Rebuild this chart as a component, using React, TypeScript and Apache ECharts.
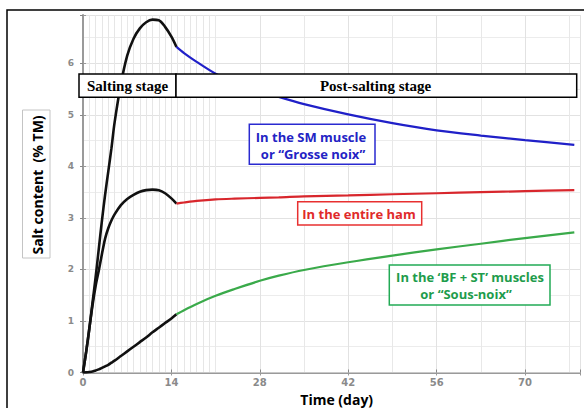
import React, { useEffect, useRef } from "react";
import * as echarts from "echarts";

// Salting stage (black curves)
const saltingDays = [0, 0.5, 1, 1.5, 2, 2.5, 3, 3.5, 4, 4.5, 5, 6, 7, 8, 9, 10, 11, 12, 13, 14, 14.8];
const smSalting = [0, 0.4, 0.85, 1.35, 1.85, 2.4, 2.95, 3.45, 3.9, 4.35, 4.85, 5.6, 6.15, 6.48, 6.68, 6.8, 6.85, 6.84, 6.71, 6.52, 6.32];
const hamSalting = [0, 0.4, 0.85, 1.3, 1.68, 1.98, 2.3, 2.6, 2.8, 2.95, 3.07, 3.25, 3.37, 3.45, 3.51, 3.54, 3.55, 3.54, 3.48, 3.38, 3.28];
const bfSalting = [0, 0.003, 0.01, 0.02, 0.04, 0.06, 0.09, 0.12, 0.15, 0.19, 0.23, 0.32, 0.41, 0.5, 0.59, 0.68, 0.78, 0.87, 0.96, 1.05, 1.13];

// Post-salting stage (coloured curves)
const postDays = [14.8, 16, 18, 21, 24, 28, 31, 35, 42, 49, 56, 63, 70, 77.8];
const smPost = [6.32, 6.2, 6.03, 5.8, 5.64, 5.47, 5.35, 5.21, 5.01, 4.84, 4.7, 4.6, 4.51, 4.42];
const hamPost = [3.28, 3.3, 3.33, 3.36, 3.375, 3.39, 3.4, 3.42, 3.44, 3.46, 3.48, 3.5, 3.52, 3.54];
const bfPost = [1.13, 1.21, 1.33, 1.49, 1.62, 1.78, 1.88, 1.99, 2.14, 2.27, 2.39, 2.5, 2.61, 2.72];

const fineGridDays = [1, 2, 3, 4, 5, 6, 8, 9, 10, 11, 12, 13, 15, 16, 17, 18, 19, 20];

const xTickStep = 14;
const yTickStep = 1;

const stageLabels = ["Salting stage", "Post-salting stage"];
const smLabel = ["In the SM muscle", "or \u201CGrosse noix\u201D"];
const hamLabel = ["In the entire ham"];
const bfLabel = ["In the \u2018BF + ST\u2019 muscles", "or \u201CSous-noix\u201D"];
const xTitle = "Time (day)";
const yTitle = "Salt content  (% TM)";

const zip = (xs: number[], ys: number[]) => xs.map((x, i) => [x, ys[i]]);

export default function App() {
  const ref = useRef<HTMLDivElement>(null);
  useEffect(() => {
    document.body.style.margin = "0";
    if (!ref.current) return;
    const chart = echarts.init(ref.current, undefined, { renderer: "svg" });
    const tickFont = { color: "#8a8a8a", fontFamily: "DejaVu Sans", fontWeight: "bold" as const, fontSize: 9 };
    const sans = "bold 13px 'Open Sans'";
    const serif = "bold 15px 'Liberation Serif'";
    const lineSeries = (data: number[][], color: string, width: number, extra: any = {}) => ({
      type: "line",
      data,
      smooth: 0.3,
      symbol: "none",
      lineStyle: { color, width },
      ...extra,
    });
    const txt = (text: string, x: number, y: number, font: string, fill: string) => ({
      type: "text",
      x,
      y,
      z: 101,
      style: { text, font, fill, align: "center", verticalAlign: "middle" },
    });
    const box = (x: number, y: number, w: number, h: number, stroke: string, lw = 1.5, fill = "#fff") => ({
      type: "rect",
      z: 100,
      shape: { x, y, width: w, height: h },
      style: { fill, stroke, lineWidth: lw },
    });
    const xMax = 78.7;
    const yMax = 6.94;
    chart.setOption({
      animation: false,
      grid: { left: 83, right: 4, top: 15, bottom: 35.5 },
      xAxis: [
        {
          type: "value",
          min: 0,
          max: xMax,
          interval: xTickStep,
          axisLine: { show: true, lineStyle: { color: "#9a9a9a", width: 2 } },
          axisTick: { show: true, inside: true, length: 3, lineStyle: { color: "#888" } },
          axisLabel: {
            ...tickFont,
            fontSize: 10,
            margin: 5,
            formatter: (v: number) => (v % xTickStep === 0 ? String(v) : ""),
          },
          splitLine: { show: true, lineStyle: { color: "#e2e2e2", width: 1 } },
          minorTick: { show: false, splitNumber: 2 },
          minorSplitLine: { show: true, lineStyle: { color: "#e8e8e8", width: 1 } },
        },
        {
          type: "value",
          position: "top",
          min: 0,
          max: xMax,
          interval: xTickStep,
          axisLine: { show: true, lineStyle: { color: "#c8c8c8", width: 1 } },
          axisTick: { show: true, inside: true, length: 3, lineStyle: { color: "#999" } },
          axisLabel: { show: false },
          splitLine: { show: false },
        },
      ],
      yAxis: [
        {
          type: "value",
          min: 0,
          max: yMax,
          interval: yTickStep,
          axisLine: { show: true, lineStyle: { color: "#c8c8c8", width: 1 } },
          axisTick: { show: true, inside: true, length: 3, lineStyle: { color: "#999" } },
          axisLabel: {
            ...tickFont,
            margin: 9,
            formatter: (v: number) => (v % yTickStep === 0 ? String(v) : ""),
          },
          splitLine: { show: true, lineStyle: { color: "#e2e2e2", width: 1 } },
          minorTick: { show: false, splitNumber: 2 },
          minorSplitLine: { show: true, lineStyle: { color: "#ececec", width: 1 } },
        },
        {
          type: "value",
          position: "right",
          min: 0,
          max: yMax,
          interval: yTickStep,
          axisLine: { show: true, lineStyle: { color: "#9a9a9a", width: 2 } },
          axisTick: { show: true, inside: true, length: 3, lineStyle: { color: "#888" } },
          axisLabel: { show: false },
          splitLine: { show: false },
        },
      ],
      series: [
        lineSeries(zip(saltingDays, bfSalting), "#111", 2.6, {
          markLine: {
            silent: true,
            symbol: "none",
            label: { show: false },
            lineStyle: { color: "#e6e6e6", width: 1, type: "solid" },
            z: 0,
            data: fineGridDays.map((d) => ({ xAxis: d })),
          },
        }),
        lineSeries(zip(saltingDays, hamSalting), "#111", 2.6),
        lineSeries(zip(saltingDays, smSalting), "#111", 2.6),
        lineSeries(zip(postDays, smPost), "#2020c8", 2.2),
        lineSeries(zip(postDays, hamPost), "#d8262c", 2.2),
        lineSeries(zip(postDays, bfPost), "#3aaa4a", 2.2),
      ],
      graphic: [
        box(7, 10, 620, 440, "#000", 1.5, "none"),
        box(22.5, 110, 27.5, 148, "#c4c4c4", 1),
        {
          type: "text",
          x: 37,
          y: 185,
          rotation: Math.PI / 2,
          z: 101,
          style: { text: yTitle, font: "bold 14px 'Open Sans'", fill: "#000", align: "center", verticalAlign: "middle" },
        },
        txt(xTitle, 336.7, 399.5, "bold 14px 'Open Sans'", "#000"),
        box(79, 74, 97, 23.3, "#000"),
        box(176, 74, 400.7, 23.3, "#000"),
        txt(stageLabels[0], 127.5, 86, serif, "#000"),
        txt(stageLabels[1], 375.5, 86, serif, "#000"),
        box(249.3, 124.3, 125.7, 40, "#2a2ad0"),
        txt(smLabel[0], 311, 136.5, sans, "#2323c4"),
        txt(smLabel[1], 313, 154, sans, "#2323c4"),
        box(297.7, 201.7, 124, 23.3, "#e83030"),
        txt(hamLabel[0], 359, 213.5, sans, "#e02a2a"),
        box(389.3, 265, 160.7, 40, "#22aa55"),
        txt(bfLabel[0], 470, 277, sans, "#1e9c4c"),
        txt(bfLabel[1], 466, 294, sans, "#1e9c4c"),
      ],
    });
    return () => chart.dispose();
  }, []);
  return <div ref={ref} style={{ width: 584, height: 408 }} />;
}
